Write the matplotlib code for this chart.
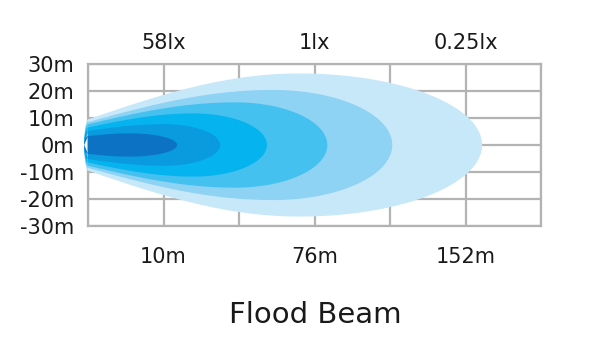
import numpy as np
from matplotlib import pyplot as plt

# beam layers, from the outermost (weakest light) to the innermost
# x in grid columns (0..6), half widths in metres
reach = [5.22, 4.03, 3.17, 2.37, 1.75, 1.18]
peak_at = [2.8, 2.45, 1.95, 1.4, 1.0, 0.55]
half_width = [26.5, 20.4, 15.8, 11.7, 7.7, 4.3]
start_width = [9.5, 8.5, 7.7, 6.5, 5.2, 3.3]
colors = ['#c7e8f9', '#8ed2f4', '#45c1f0', '#05b3ee', '#0a9ade', '#0c72c4']

y_ticks = [30, 20, 10, 0, -10, -20, -30]
y_labels = ['30m', '20m', '10m', '0m', '-10m', '-20m', '-30m']
dist_ticks = [1, 3, 5]
dist_labels = ['10m', '76m', '152m']
lux_labels = ['58lx', '1lx', '0.25lx']

grid_col = '#b3b3b3'
text_col = '#1a1a1a'


def beam_outline(L, P, H, W0, cap=0.05):
    # rounded left cap, rising flank, elliptical nose
    a = np.linspace(np.pi / 2, 0, 20)
    cap_x = -cap * np.cos(a)
    cap_y = W0 * np.sin(a)
    x1 = np.linspace(0, P, 60)
    y1 = W0 + (H - W0) * np.sin(np.pi / 2 * x1 / P)
    t = np.linspace(0, np.pi / 2, 80)
    x2 = P + (L - P) * np.sin(t)
    y2 = H * np.cos(t)
    xs = np.concatenate([cap_x, x1, x2])
    ys = np.concatenate([cap_y, y1, y2])
    # mirror for lower half
    x_all = np.concatenate([xs, xs[::-1]])
    y_all = np.concatenate([ys, -ys[::-1]])
    return x_all, y_all


fig = plt.figure(figsize=(6, 3.44), dpi=100)
ax = fig.add_axes([88 / 600, 1 - 226 / 344, (541 - 88) / 600, (226 - 64) / 344])
ax.set_xlim(0, 6)
ax.set_ylim(-30, 30)

# grid
for gx in range(7):
    ax.axvline(gx, color=grid_col, lw=1.6, zorder=1)
for gy in y_ticks:
    ax.axhline(gy, color=grid_col, lw=1.6, zorder=1)

for L, P, H, W0, c in zip(reach, peak_at, half_width, start_width, colors):
    bx, by = beam_outline(L, P, H, W0)
    ax.fill(bx, by, color=c, lw=0, zorder=2, clip_on=False)

for s in ax.spines.values():
    s.set_color(grid_col)
    s.set_linewidth(1.6)
    s.set_zorder(1)

ax.set_yticks(y_ticks)
ax.set_yticklabels(y_labels)
ax.set_xticks(dist_ticks)
ax.set_xticklabels(dist_labels)
ax.tick_params(axis='y', length=0, pad=10, labelsize=15, labelcolor=text_col)
ax.tick_params(axis='x', length=0, pad=15, labelsize=15, labelcolor=text_col)

top = ax.twiny()
top.set_xlim(0, 6)
top.set_xticks(dist_ticks)
top.set_xticklabels(lux_labels)
top.tick_params(axis='x', length=0, pad=8, labelsize=15, labelcolor=text_col)
for s in top.spines.values():
    s.set_visible(False)

fig.text(315 / 600, 1 - 323 / 344, 'Flood Beam', ha='center', va='baseline',
         fontsize=21, color=text_col)

fig.savefig('out.png', dpi=100)
